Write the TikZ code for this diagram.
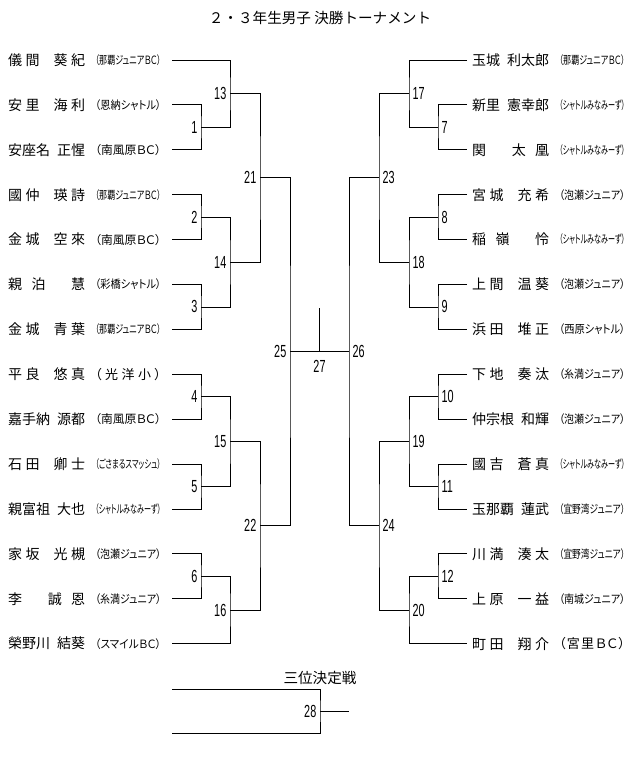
\documentclass[tikz,border=0pt]{standalone}
\usepackage{fontspec}
\usepackage{graphicx}
\newfontfamily\jpfont{Noto Sans CJK JP}
\newfontfamily\jpprop[RawFeature=+palt]{Noto Sans CJK JP}
\newfontfamily\numfam{Liberation Sans}
\newsavebox\affbox
\newlength\affw
\def\spreadchars#1{\spreadFirst#1\relax}
\def\spreadFirst#1{#1\spreadRest}
\def\spreadRest#1{\ifx#1\relax\else\hfil#1\expandafter\spreadRest\fi}
\def\hs{\kern0.5em}
\newcommand\pname[1]{\makebox[77pt][s]{\expandafter\spreadchars\expandafter{#1}}}
\newcommand\aff[1]{%
  \sbox\affbox{#1}%
  \ifdim\wd\affbox>66pt
    \setlength\affw{\wd\affbox}%
    \pgfmathsetmacro\fx{66/\affw}%
    \pgfmathsetmacro\fy{max(\fx,0.88)}%
    \scalebox{\fx}[\fy]{\usebox\affbox}%
  \else
    \makebox[66pt][s]{\expandafter\spreadchars\expandafter{#1}}%
  \fi}
\newcommand\nb[1]{\scalebox{0.62}[1]{#1}}
\tikzset{
  pn/.style={anchor=west, inner sep=0pt, font=\fontsize{14}{16}\selectfont\jpfont},
  pa/.style={anchor=west, inner sep=0pt, font=\fontsize{13}{15}\selectfont\jpprop},
  lab/.style={inner sep=0pt, font=\fontsize{17.5}{18}\selectfont\numfam},
  br/.style={line width=0.9pt, black},
}
\begin{document}
\begin{tikzpicture}[x=1pt,y=-1pt]
\path[use as bounding box, fill=white] (0,0) rectangle (640,769);

\node[font=\fontsize{14.6}{16}\selectfont\jpfont] (title) at (320,18) {２・３年生男子 決勝トーナメント};

% left players
\foreach \i/\nm/\af in {
 1/{儀間\hs 葵紀}/{（那覇ジュニアＢＣ）},
 2/{安里\hs 海利}/{（恩納シャトル）},
 3/{安座名\hs 正惺}/{（南風原ＢＣ）},
 4/{國仲\hs 瑛詩}/{（那覇ジュニアＢＣ）},
 5/{金城\hs 空來}/{（南風原ＢＣ）},
 6/{親泊\hs 慧}/{（彩橋シャトル）},
 7/{金城\hs 青葉}/{（那覇ジュニアＢＣ）},
 8/{平良\hs 悠真}/{（光洋小）},
 9/{嘉手納\hs 源都}/{（南風原ＢＣ）},
 10/{石田\hs 卿士}/{（ごさまるスマッシュ）},
 11/{親富祖\hs 大也}/{（シャトルみなみーず）},
 12/{家坂\hs 光槻}/{（泡瀬ジュニア）},
 13/{李\hs 誠恩}/{（糸満ジュニア）},
 14/{榮野川\hs 結葵}/{（スマイルＢＣ）}}{
  \pgfmathsetmacro\yy{60+44.9*(\i-1)}
  \node[pn] (pL\i) at (8,\yy) {\pname{\nm}};
  \node[pa] (aL\i) at (95,\yy) {\aff{\af}};
  \coordinate (sL\i) at (172,\yy);
}
% right players
\foreach \i/\nm/\af in {
 1/{玉城\hs 利太郎}/{（那覇ジュニアＢＣ）},
 2/{新里\hs 憲幸郎}/{（シャトルみなみーず）},
 3/{関\hs 太凰}/{（シャトルみなみーず）},
 4/{宮城\hs 充希}/{（泡瀬ジュニア）},
 5/{稲嶺\hs 怜}/{（シャトルみなみーず）},
 6/{上間\hs 温葵}/{（泡瀬ジュニア）},
 7/{浜田\hs 堆正}/{（西原シャトル）},
 8/{下地\hs 奏汰}/{（糸満ジュニア）},
 9/{仲宗根\hs 和輝}/{（泡瀬ジュニア）},
 10/{國吉\hs 蒼真}/{（シャトルみなみーず）},
 11/{玉那覇\hs 蓮武}/{（宜野湾ジュニア）},
 12/{川満\hs 湊太}/{（宜野湾ジュニア）},
 13/{上原\hs 一益}/{（南城ジュニア）},
 14/{町田\hs 翔介}/{（宮里ＢＣ）}}{
  \pgfmathsetmacro\yy{60+44.9*(\i-1)}
  \node[pn] (pR\i) at (472,\yy) {\pname{\nm}};
  \node[pa] (aR\i) at (559,\yy) {\aff{\af}};
  \coordinate (sR\i) at (467,\yy);
}

% match points, left
\coordinate (m1) at (201,127.35);
\coordinate (m2) at (201,217.15);
\coordinate (m3) at (201,306.95);
\coordinate (m4) at (201,396.75);
\coordinate (m5) at (201,486.55);
\coordinate (m6) at (201,576.35);
\coordinate (m13) at (230,93.675);
\coordinate (m14) at (230,262.05);
\coordinate (m15) at (230,441.65);
\coordinate (m16) at (230,610.025);
\coordinate (m21) at (260,177.86);
\coordinate (m22) at (260,525.84);
\coordinate (m25) at (290,351.85);
% right
\coordinate (m7) at (438,127.35);
\coordinate (m8) at (438,217.15);
\coordinate (m9) at (438,306.95);
\coordinate (m10) at (438,396.75);
\coordinate (m11) at (438,486.55);
\coordinate (m12) at (438,576.35);
\coordinate (m17) at (409,93.675);
\coordinate (m18) at (409,262.05);
\coordinate (m19) at (409,441.65);
\coordinate (m20) at (409,610.025);
\coordinate (m23) at (379,177.86);
\coordinate (m24) at (379,525.84);
\coordinate (m26) at (349,351.85);
% final
\coordinate (m27) at (319.5,351.85);
\coordinate (m27top) at (319.5,308);

% left brackets
\draw[br] (sL2) -| (m1) |- (sL3);
\draw[br] (sL4) -| (m2) |- (sL5);
\draw[br] (sL6) -| (m3) |- (sL7);
\draw[br] (sL8) -| (m4) |- (sL9);
\draw[br] (sL10) -| (m5) |- (sL11);
\draw[br] (sL12) -| (m6) |- (sL13);
\draw[br] (sL1) -| (m13) |- (m1);
\draw[br] (m2) -| (m14) |- (m3);
\draw[br] (m4) -| (m15) |- (m5);
\draw[br] (m6) -| (m16) |- (sL14);
\draw[br] (m13) -| (m21) |- (m14);
\draw[br] (m15) -| (m22) |- (m16);
\draw[br] (m21) -| (m25) |- (m22);
% right brackets
\draw[br] (sR2) -| (m7) |- (sR3);
\draw[br] (sR4) -| (m8) |- (sR5);
\draw[br] (sR6) -| (m9) |- (sR7);
\draw[br] (sR8) -| (m10) |- (sR9);
\draw[br] (sR10) -| (m11) |- (sR11);
\draw[br] (sR12) -| (m12) |- (sR13);
\draw[br] (sR1) -| (m17) |- (m7);
\draw[br] (m8) -| (m18) |- (m9);
\draw[br] (m10) -| (m19) |- (m11);
\draw[br] (m12) -| (m20) |- (sR14);
\draw[br] (m17) -| (m23) |- (m18);
\draw[br] (m19) -| (m24) |- (m20);
\draw[br] (m23) -| (m26) |- (m24);
% final
\draw[br] (m25) -- (m26);
\draw[br] (m27top) -- (m27);

% labels left
\foreach \k in {1,2,3,4,5,6,13,14,15,16,21,22,25}{
  \node[lab, anchor=east] (n\k) at ([xshift=-3.5pt]m\k) {\nb{\k}};
}
% labels right
\foreach \k in {7,8,9,10,11,12,17,18,19,20,23,24,26}{
  \node[lab, anchor=west] (n\k) at ([xshift=3.5pt]m\k) {\nb{\k}};
}
\node[lab] (n27) at (319.5,366) {\nb{27}};

% third place
\node[font=\fontsize{14.6}{16}\selectfont\jpfont] (third) at (320,678) {三位決定戦};
\coordinate (t1) at (172,689);
\coordinate (t2) at (172,733);
\coordinate (m28) at (320,711);
\coordinate (t28o) at (349,711);
\draw[br] (t1) -| (m28) |- (t2);
\draw[br] (m28) -- (t28o);
\node[lab, anchor=east] (n28) at ([xshift=-3.5pt]m28) {\nb{28}};
\end{tikzpicture}
\end{document}
